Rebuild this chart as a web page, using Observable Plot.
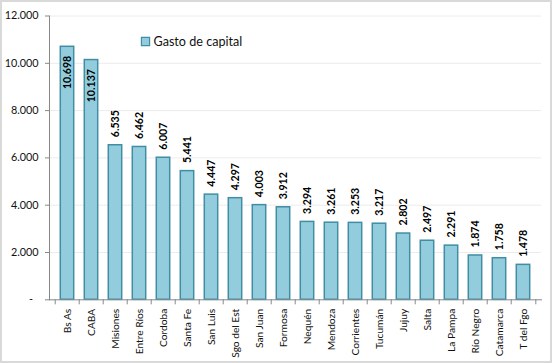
<!DOCTYPE html>
<html>
<head>
<meta charset="utf-8">
<script src="https://cdn.jsdelivr.net/npm/d3@7"></script>
<script src="https://cdn.jsdelivr.net/npm/@observablehq/plot@0.6"></script>
<style>
  html, body { margin: 0; padding: 0; background: #fff; }
  #chart svg { display: block; outline: 2px solid #d9d9d9; outline-offset: -2px; }
</style>
</head>
<body>
<div id="chart"></div>
<script>
const provinces = ["Bs As", "CABA", "Misiones", "Entre Ríos", "Cordoba", "Santa Fe", "San Luis", "Sgo del Est", "San Juan", "Formosa", "Nequén", "Mendoza", "Corrientes", "Tucumán", "Jujuy", "Salta", "La Pampa", "Río Negro", "Catamarca", "T del Fgo"];
const gastoCapital = [10698, 10137, 6535, 6462, 6007, 5441, 4447, 4297, 4003, 3912, 3294, 3261, 3253, 3217, 2802, 2497, 2291, 1874, 1758, 1478];
const yTicks = [0, 2000, 4000, 6000, 8000, 10000, 12000];
const seriesName = "Gasto de capital";

const data = provinces.map((p, i) => ({province: p, value: gastoCapital[i]}));
const loc = d3.formatLocale({decimal: ",", thousands: ".", grouping: [3], currency: ["$", ""]});
const fmt = loc.format(",d");
const yFmt = v => v === 0 ? "-\u00a0\u00a0" : fmt(v);

const W = 552, H = 363;
const mL = 49, mR = 11, mT = 15.5, mB = 63.7;
const step = (W - mL - mR) / provinces.length;
const fillC = "#93CDDD", strokeC = "#3F8EA3";
const font = "Lato, 'Open Sans', sans-serif";

const chart = Plot.plot({
  width: W, height: H,
  marginLeft: mL, marginRight: mR, marginTop: mT, marginBottom: mB,
  style: {fontFamily: font, fontSize: "10px", color: "#000", background: "#fff"},
  x: {domain: provinces, padding: 0, label: null},
  y: {domain: [0, 12000], label: null},
  marks: [
    Plot.ruleY(yTicks.filter(d => d > 0), {stroke: "#ececec", strokeWidth: 1}),
    Plot.barY(data, {x: "province", y: "value", fill: fillC, stroke: strokeC, strokeWidth: 1.5, insetLeft: 5.3, insetRight: 5.3}),
    Plot.frame({anchor: "left", stroke: "#888"}),
    Plot.frame({anchor: "bottom", stroke: "#888"}),
    Plot.axisY({ticks: yTicks, tickFormat: yFmt, tickSize: 4, tickPadding: 7, stroke: "#888", fontSize: 10.8, fill: "#111"}),
    Plot.axisX({tickSize: 0, tickPadding: 9, tickRotate: -90, fontSize: 10.2, fill: "#111"}),
    Plot.ruleX(data, {x: "province", dx: -step / 2, y1: 0, y2: 0, insetTop: 5, stroke: "#888"}),
    Plot.ruleX(data.slice(-1), {x: "province", dx: step / 2, y1: 0, y2: 0, insetTop: 5, stroke: "#888"}),
    Plot.text(data.filter(d => d.value <= 10000), {x: "province", y: "value", text: d => fmt(d.value), rotate: -90, textAnchor: "start", lineAnchor: "middle", dy: -8, fontWeight: "bold", fontSize: 10.6, fill: "#000"}),
    Plot.text(data.filter(d => d.value > 10000), {x: "province", y: "value", text: d => fmt(d.value), rotate: -90, textAnchor: "end", lineAnchor: "middle", dy: 9, fontWeight: "bold", fontSize: 10.6, fill: "#000"}),
    Plot.dot([seriesName], {frameAnchor: "top-left", dx: 96, dy: 25.5, symbol: "square", r: 4.6, fill: fillC, stroke: strokeC, strokeWidth: 1.2}),
    Plot.text([seriesName], {frameAnchor: "top-left", dx: 104, dy: 25.5, text: d => d, textAnchor: "start", lineAnchor: "middle", fontSize: 12.6, fill: "#111"})
  ]
});
document.getElementById("chart").appendChild(chart);
</script>
</body>
</html>
